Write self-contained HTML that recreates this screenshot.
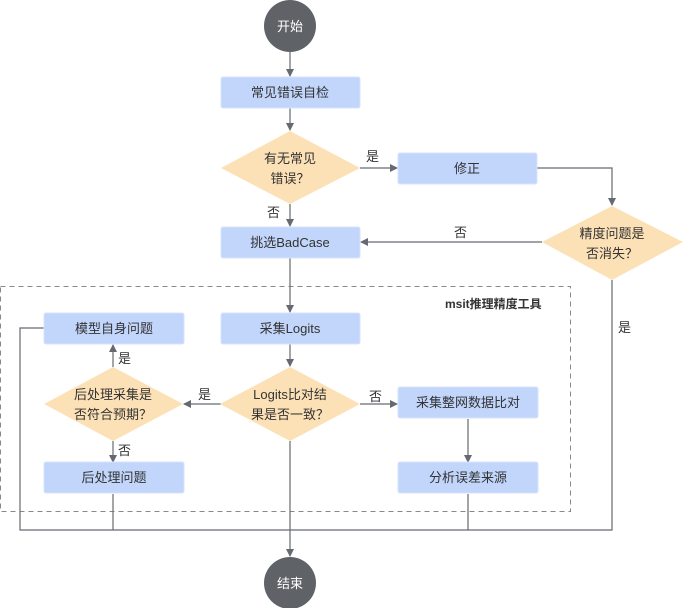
<!DOCTYPE html>
<html><head><meta charset="utf-8"><style>
body{margin:0;background:#fff}
svg text{font-family:"Liberation Sans","Noto Sans CJK SC",sans-serif;font-size:13px;fill:#333}
</style></head><body>
<svg width="683" height="608" viewBox="0 0 683 608" xmlns="http://www.w3.org/2000/svg">
<defs><marker id="a" markerWidth="8" markerHeight="8" refX="7" refY="4" orient="auto" markerUnits="userSpaceOnUse"><path d="M0,0 L8,4 L0,8 z" fill="#666a70"/></marker></defs>
<rect x="0.5" y="286.5" width="570" height="225" fill="none" stroke="#888" stroke-dasharray="5,4"/>
<g stroke="#666a70" stroke-width="1.2" fill="none">
<line x1="290" y1="52" x2="290" y2="76" marker-end="url(#a)"/>
<line x1="290" y1="108" x2="290" y2="130" marker-end="url(#a)"/>
<line x1="360" y1="168" x2="397" y2="168" marker-end="url(#a)"/>
<polyline points="537,168 612,168 612,205" marker-end="url(#a)"/>
<line x1="290" y1="204" x2="290" y2="226" marker-end="url(#a)"/>
<line x1="542" y1="242" x2="361" y2="242" marker-end="url(#a)"/>
<line x1="290" y1="258" x2="290" y2="312" marker-end="url(#a)"/>
<line x1="290" y1="344" x2="290" y2="366" marker-end="url(#a)"/>
<line x1="221" y1="404" x2="184" y2="404" marker-end="url(#a)"/>
<line x1="360" y1="404" x2="397" y2="404" marker-end="url(#a)"/>
<line x1="113" y1="367" x2="113" y2="345" marker-end="url(#a)"/>
<line x1="113" y1="441" x2="113" y2="462" marker-end="url(#a)"/>
<line x1="468" y1="419" x2="468" y2="462" marker-end="url(#a)"/>
<line x1="290" y1="441" x2="290" y2="556" marker-end="url(#a)"/>
<polyline points="44,328 20,328 20,530 612,530 612,280"/>
<line x1="113" y1="494" x2="113" y2="530"/>
<line x1="468" y1="494" x2="468" y2="530"/>
</g>
<circle cx="290" cy="26" r="26" fill="#5f6368"/>
<text x="290" y="31" text-anchor="middle" style="fill:#fff">开始</text>
<circle cx="290" cy="583" r="26" fill="#5f6368"/>
<text x="290" y="588" text-anchor="middle" style="fill:#fff">结束</text>
<g fill="#c2d5fb" stroke="#d7e3fc">
<rect x="221" y="77" width="139" height="31" rx="2"/>
<rect x="398" y="153" width="139" height="31" rx="2"/>
<rect x="221" y="227" width="139" height="31" rx="2"/>
<rect x="221" y="313" width="139" height="31" rx="2"/>
<rect x="44" y="313" width="140" height="31" rx="2"/>
<rect x="44" y="462" width="140" height="31" rx="2"/>
<rect x="398" y="387" width="140" height="31" rx="2"/>
<rect x="398" y="462" width="140" height="31" rx="2"/>
</g>
<g fill="#fde1b6">
<polygon points="290,131 360,168 290,204 221,168"/>
<polygon points="612,206 683,242 612,280 542,242"/>
<polygon points="290,367 360,404 290,441 220,404"/>
<polygon points="113,367 183,404 113,441 44,404"/>
</g>
<g text-anchor="middle">
<text x="290" y="97">常见错误自检</text>
<text x="467" y="173">修正</text>
<text x="290" y="247">挑选BadCase</text>
<text x="290" y="333">采集Logits</text>
<text x="114" y="333">模型自身问题</text>
<text x="114" y="482">后处理问题</text>
<text x="468" y="407">采集整网数据比对</text>
<text x="468" y="482">分析误差来源</text>
<text x="290" y="163">有无常见</text>
<text x="290" y="183">错误？</text>
<text x="612" y="238">精度问题是</text>
<text x="612" y="258">否消失？</text>
<text x="290" y="399">Logits比对结</text>
<text x="290" y="419">果是否一致？</text>
<text x="113" y="399">后处理采集是</text>
<text x="113" y="419">否符合预期？</text>
</g>
<text x="366" y="161">是</text>
<text x="267" y="217">否</text>
<text x="454" y="237">否</text>
<text x="618" y="332">是</text>
<text x="445" y="308" style="font-weight:bold;font-size:12px">msit推理精度工具</text>
<text x="118" y="363">是</text>
<text x="198" y="399">是</text>
<text x="369" y="401">否</text>
<text x="118" y="455">否</text>
</svg>
</body></html>
